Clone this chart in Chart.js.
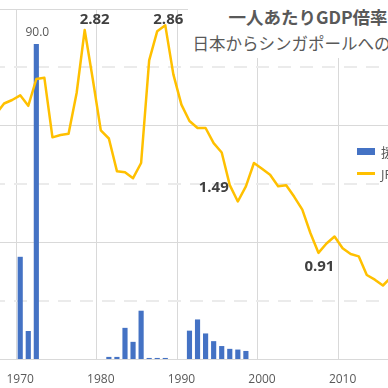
<!DOCTYPE html>
<html>
<head>
<meta charset="utf-8">
<script src="https://cdn.jsdelivr.net/npm/chart.js@4/dist/chart.umd.min.js"></script>
<style>
  body { margin: 0; background: #fff; }
  #frame { position: relative; width: 388px; height: 388px; overflow: hidden; background: #fff; }
  #plot { position: absolute; left: -8px; top: 0; width: 403px; height: 388px; }
  #title {
    position: absolute; left: 188px; top: 0; width: 240px; height: 58px;
    box-sizing: border-box; padding-top: 4px; background: #fff;
    text-align: center; white-space: nowrap;
    font-family: "Noto Sans CJK JP", "Noto Sans", sans-serif;
    font-size: 16.5px; line-height: 26px; color: #595959;
  }
  #title .main { font-weight: bold; font-size: 17.5px; }
  #legend {
    position: absolute; left: 355px; top: 140px; white-space: nowrap;
    font-family: "Open Sans", "Noto Sans CJK JP", sans-serif;
    font-size: 13px; color: #595959;
  }
  #legend .row { height: 22px; display: flex; align-items: center; }
  #legend .swatch { display: inline-block; width: 18px; margin: 0 6px 0 2px; }
  #legend .bar { height: 7px; background: #4472C4; }
  #legend .line { height: 3px; background: #FFC000; }
</style>
</head>
<body>
<div id="frame">
  <div id="plot"><canvas id="myChart"></canvas></div>
  <div id="title">
    <div class="main">一人あたりGDP倍率</div>
    <div>日本からシンガポールへの援助</div>
  </div>
  <div id="legend">
    <div class="row"><span class="swatch bar"></span>援助額(百万ドル)</div>
    <div class="row"><span class="swatch line"></span>JPN/SGP GDP倍率</div>
  </div>
</div>
<script>
// Data
const years = [
  '1967', '1968', '1969', '1970', '1971', '1972', '1973', '1974', '1975', '1976',
  '1977', '1978', '1979', '1980', '1981', '1982', '1983', '1984', '1985', '1986',
  '1987', '1988', '1989', '1990', '1991', '1992', '1993', '1994', '1995', '1996',
  '1997', '1998', '1999', '2000', '2001', '2002', '2003', '2004', '2005', '2006',
  '2007', '2008', '2009', '2010', '2011', '2012', '2013', '2014', '2015', '2016',
];

const aidValues = [
  null, null, null, 29.2, 8.0, 90.0, null, null, null, null,
  null, null, null, null, 0.6, 0.6, 8.9, 4.9, 13.8, 0.3,
  0.3, 0.3, null, null, 8.1, 11.3, 7.3, 5.1, 3.7, 2.9,
  2.7, 2.3, null, null, null, null, null, null, null, null,
  null, null, null, null, null, null, null, null, null, null,
];

const gdpRatio = [
  2.10, 2.19, 2.22, 2.26, 2.17, 2.40, 2.41, 1.90, 1.92, 1.93,
  2.28, 2.82, 2.40, 1.96, 1.89, 1.61, 1.60, 1.55, 1.68, 2.56,
  2.81, 2.86, 2.44, 2.18, 2.04, 1.98, 1.98, 1.85, 1.77, 1.49,
  1.35, 1.48, 1.68, 1.63, 1.58, 1.48, 1.49, 1.39, 1.28, 1.08,
  0.91, 0.99, 1.05, 0.95, 0.90, 0.88, 0.72, 0.68, 0.63, 0.70,
];

const tickYears = ['1970', '1980', '1990', '2000', '2010'];
const lineLabelYears = ['1978', '1988', '1996', '2007'];
const barLabelYears = ['1972'];

// Labels on a few points
const valueLabels = {
  id: 'valueLabels',
  afterDatasetsDraw(chart, args, opts) {
    const ctx = chart.ctx;
    opts.items.forEach((item) => {
      const i = years.indexOf(item.year);
      const el = chart.getDatasetMeta(item.dataset).data[i];
      const value = chart.data.datasets[item.dataset].data[i];
      ctx.save();
      ctx.font = item.font;
      ctx.fillStyle = item.color;
      ctx.textAlign = item.align;
      ctx.textBaseline = 'middle';
      ctx.fillText(value.toFixed(item.digits), el.x + item.dx, el.y + item.dy);
      ctx.restore();
    });
  },
};

const lineLabelPlace = {
  '1978': { dx: 10, dy: -10, align: 'center' },
  '1988': { dx: 3, dy: -6, align: 'center' },
  '1996': { dx: -1, dy: 3, align: 'right' },
  '2007': { dx: 1, dy: 14, align: 'center' },
};

const labelItems = lineLabelYears.map((y) => ({
  year: y, dataset: 0, digits: 2,
  font: 'bold 15px "Open Sans"', color: '#404040',
  ...lineLabelPlace[y],
})).concat(barLabelYears.map((y) => ({
  year: y, dataset: 1, digits: 1,
  font: '12px "Open Sans"', color: '#595959',
  dx: 1, dy: -11, align: 'center',
})));

const isHalf = (ctx) => ctx.tick && Math.abs(ctx.tick.value % 1) > 0.01;

const config = {
  type: 'bar',
  data: {
    labels: years,
    datasets: [
      {
        type: 'line',
        label: 'JPN/SGP GDP倍率',
        data: gdpRatio,
        yAxisID: 'yRatio',
        borderColor: '#FFC000',
        backgroundColor: '#FFC000',
        borderWidth: 2.5,
        borderJoinStyle: 'round',
        borderCapStyle: 'round',
        pointRadius: 0,
        tension: 0,
        order: 0,
      },
      {
        label: '援助額(百万ドル)',
        data: aidValues,
        yAxisID: 'yAid',
        backgroundColor: '#4472C4',
        categoryPercentage: 1,
        barPercentage: 0.64,
        order: 1,
      },
    ],
  },
  plugins: [valueLabels],
  options: {
    responsive: true,
    maintainAspectRatio: false,
    animation: false,
    layout: { padding: { top: 9, left: 0, right: 0, bottom: 0 } },
    plugins: {
      legend: { display: false },
      title: { display: false },
      tooltip: { enabled: false },
      valueLabels: { items: labelItems },
    },
    scales: {
      x: {
        offset: true,
        grid: {
          offset: true,
          drawTicks: true,
          tickLength: 9,
          tickColor: 'rgba(0,0,0,0)',
          color: (ctx) =>
            ctx.index !== undefined && tickYears.includes(years[ctx.index])
              ? '#d9d9d9'
              : 'rgba(0,0,0,0)',
        },
        border: { display: false },
        ticks: {
          autoSkip: false,
          maxRotation: 0,
          padding: 4,
          color: '#595959',
          font: { family: 'Open Sans', size: 12 },
          callback: (value, index) => (tickYears.includes(years[index]) ? years[index] : ''),
        },
        afterFit: (scale) => { scale.height = 29; },
      },
      yAid: {
        display: false,
        position: 'left',
        min: 0,
        max: 100,
      },
      yRatio: {
        position: 'right',
        min: 0,
        max: 3,
        ticks: { display: false, stepSize: 0.5 },
        grid: {
          drawTicks: false,
          color: (ctx) => (isHalf(ctx) ? '#ebebeb' : '#d9d9d9'),
          lineWidth: (ctx) => (isHalf(ctx) ? 2 : 1),
        },
        border: {
          display: false,
          dash: (ctx) => (isHalf(ctx) ? [13, 9] : []),
        },
        afterFit: (scale) => { scale.width = 0; },
      },
    },
  },
};

const myChart = new Chart(document.getElementById('myChart'), config);
</script>
</body>
</html>
